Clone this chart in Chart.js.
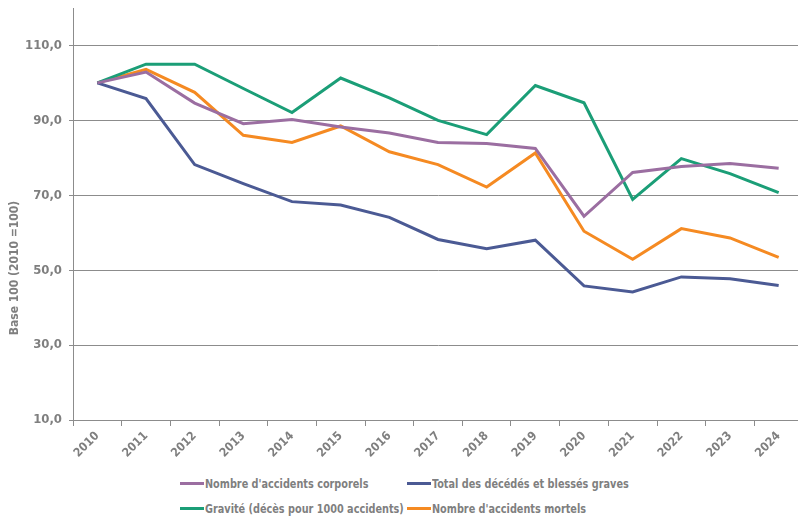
<!DOCTYPE html>
<html>
<head>
<meta charset="utf-8">
<script src="https://cdn.jsdelivr.net/npm/chart.js@4"></script>
<style>
  body { margin: 0; overflow: hidden; background: #fff; width: 798px; height: 517px; }
  #wrap { position: absolute; left: 0; top: 0; width: 803px; height: 468px; }
  #legend {
    position: absolute; left: 180px; top: 474px;
    display: grid; grid-template-columns: 227px 240px; row-gap: 7px;
    font: bold 13px "Liberation Sans Narrow", "DejaVu Sans Condensed", sans-serif;
    color: #7f7f7f;
  }
  .item { display: flex; align-items: center; white-space: nowrap; height: 18px; }
  .swatch { width: 24px; height: 3px; margin-right: 1px; flex: none; }
  .txt { display: inline-block; transform: scaleX(0.83); transform-origin: left center; }
</style>
</head>
<body>
<div id="wrap"><canvas id="chart"></canvas></div>
<div id="legend"></div>
<script>
const years = ['2010', '2011', '2012', '2013', '2014', '2015', '2016', '2017', '2018', '2019', '2020', '2021', '2022', '2023', '2024'];
const corporels = [100, 102.9, 94.6, 89.1, 90.2, 88.2, 86.6, 84.1, 83.8, 82.5, 64.4, 76.1, 77.7, 78.5, 77.2];
const decedesBlesses = [100, 95.8, 78.2, 73.1, 68.3, 67.4, 64.1, 58.2, 55.7, 58.0, 45.8, 44.2, 48.2, 47.7, 45.9];
const gravite = [100, 105.0, 105.0, 98.5, 92.1, 101.3, 96.0, 90.0, 86.2, 99.3, 94.7, 68.9, 79.8, 75.8, 70.7];
const mortels = [100, 103.6, 97.5, 86.0, 84.1, 88.5, 81.6, 78.2, 72.2, 81.3, 60.4, 52.9, 61.1, 58.6, 53.4];
const yTicks = [10, 30, 50, 70, 90, 110];
const yTitle = 'Base 100 (2010 =100)';

const FONT = '"Liberation Sans Narrow", "DejaVu Sans Condensed", sans-serif';
const GREY = '#7f7f7f';
const GRID = '#8c8c8c';

const series = [
  { label: "Nombre d'accidents corporels", data: corporels, color: '#9b6ea1' },
  { label: 'Total des décédés et blessés graves', data: decedesBlesses, color: '#4b5a94' },
  { label: 'Gravité (décès pour 1000 accidents)', data: gravite, color: '#1b9e77' },
  { label: "Nombre d'accidents mortels", data: mortels, color: '#f58a22' }
];

// y title sits low on the axis, like the original
const yTitlePlugin = {
  id: 'yTitle',
  afterDraw(chart) {
    const ctx = chart.ctx;
    ctx.save();
    ctx.translate(15, chart.chartArea.bottom - 152);
    ctx.rotate(-Math.PI / 2);
    ctx.font = 'bold 12px ' + FONT;
    ctx.fillStyle = GREY;
    ctx.textAlign = 'center';
    ctx.textBaseline = 'middle';
    ctx.fillText(yTitle, 0, 0);
    ctx.restore();
  }
};

const chart = new Chart(document.getElementById('chart'), {
  type: 'line',
  data: {
    labels: years,
    datasets: series.map(s => ({
      label: s.label,
      data: s.data,
      borderColor: s.color,
      backgroundColor: s.color,
      borderWidth: 3,
      pointRadius: 0,
      tension: 0
    }))
  },
  options: {
    responsive: true,
    maintainAspectRatio: false,
    animation: false,
    layout: { padding: { top: 8, left: 0, right: 0, bottom: 0 } },
    plugins: {
      legend: { display: false },
      tooltip: { enabled: false }
    },
    scales: {
      x: {
        offset: true,
        grid: { display: true, offset: true, drawOnChartArea: false, drawTicks: true, tickLength: 6, color: GRID },
        border: { color: GRID, width: 1 },
        ticks: {
          color: GREY, font: { family: FONT, size: 12, weight: 'bold' },
          minRotation: 45, maxRotation: 45, padding: 3
        },
        afterFit(scale) { scale.height = 48; scale.paddingLeft = 0; scale.paddingRight = 0; }
      },
      y: {
        min: 10,
        max: 120,
        afterBuildTicks(scale) { scale.ticks = yTicks.map(v => ({ value: v })); },
        afterFit(scale) { scale.width = 73; scale.paddingTop = 0; scale.paddingBottom = 0; },
        grid: { color: GRID, tickLength: 4, lineWidth: 1 },
        border: { color: GRID, width: 1 },
        ticks: {
          color: GREY, font: { family: FONT, size: 13, weight: 'bold' }, padding: 7,
          callback: v => v.toFixed(1).replace('.', ',')
        }
      }
    }
  },
  plugins: [yTitlePlugin]
});

// legend laid out as a 2x2 grid like the original
const legend = document.getElementById('legend');
series.forEach(s => {
  const item = document.createElement('div');
  item.className = 'item';
  const sw = document.createElement('span');
  sw.className = 'swatch';
  sw.style.background = s.color;
  const txt = document.createElement('span');
  txt.className = 'txt';
  txt.textContent = s.label;
  item.appendChild(sw);
  item.appendChild(txt);
  legend.appendChild(item);
});
</script>
</body>
</html>
